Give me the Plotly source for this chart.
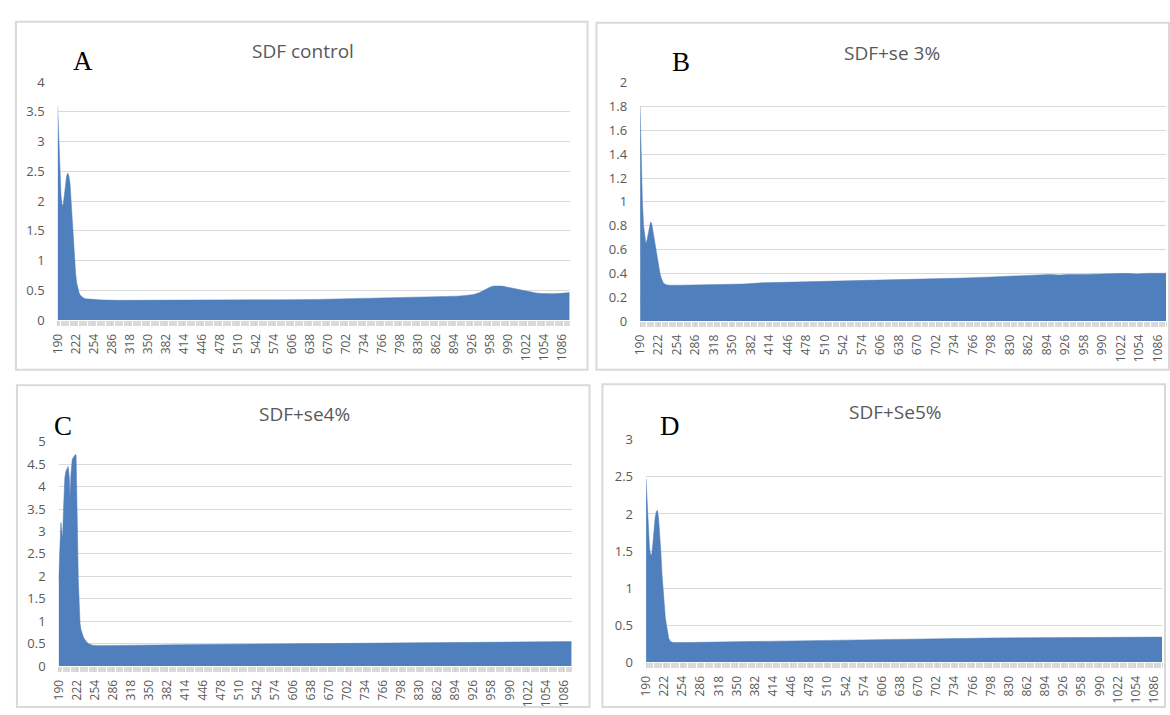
import plotly.graph_objects as go

# ---------------- data ----------------
a_wl = [190, 192, 194, 196, 198, 200, 202, 204, 206, 208, 210, 212, 214, 216, 218, 220,
        222, 224, 226, 228, 230, 232, 236, 240, 250, 270, 300, 350, 400, 450, 500, 550,
        600, 650, 700, 750, 800, 850, 880, 900, 915, 930, 940, 950, 958, 965, 972, 980,
        990, 1000, 1010, 1020, 1030, 1040, 1050, 1060, 1070, 1080, 1090, 1100]
a_abs = [3.6, 3.1, 2.5, 2.1, 1.92, 1.95, 2.1, 2.3, 2.42, 2.47, 2.42, 2.3, 2.0, 1.65, 1.3, 1.0,
         0.78, 0.62, 0.52, 0.46, 0.42, 0.40, 0.37, 0.355, 0.345, 0.335, 0.33, 0.33, 0.33, 0.335, 0.335, 0.34,
         0.34, 0.345, 0.355, 0.37, 0.375, 0.385, 0.39, 0.40, 0.41, 0.43, 0.46, 0.51, 0.55, 0.57, 0.575, 0.57,
         0.55, 0.53, 0.51, 0.49, 0.47, 0.455, 0.445, 0.44, 0.44, 0.445, 0.45, 0.46]

b_wl = [190, 192, 194, 196, 198, 200, 202, 204, 206, 208, 210, 212, 214, 216, 218, 220,
        222, 224, 226, 228, 230, 234, 240, 260, 300, 330, 350, 370, 400, 450, 500, 550,
        600, 650, 700, 750, 800, 850, 880, 900, 915, 930, 960, 1000, 1030, 1050, 1070, 1100]
b_abs = [1.8, 1.3, 1.0, 0.8, 0.7, 0.65, 0.68, 0.74, 0.8, 0.83, 0.82, 0.76, 0.68, 0.62, 0.56, 0.5,
         0.45, 0.41, 0.37, 0.34, 0.32, 0.305, 0.30, 0.30, 0.302, 0.305, 0.31, 0.31, 0.32, 0.325, 0.33, 0.34,
         0.345, 0.35, 0.355, 0.36, 0.37, 0.38, 0.39, 0.39, 0.385, 0.39, 0.39, 0.395, 0.40, 0.395, 0.40, 0.40]

c_wl = [190, 192, 194, 196, 197, 199, 201, 203, 205, 207, 209, 210, 212, 214, 216, 218,
        220, 221, 222, 223, 224, 225, 226, 227, 228, 230, 232, 234, 236, 240, 244, 250,
        260, 280, 320, 350, 400, 450, 500, 550, 600, 650, 700, 750, 800, 850, 900, 950,
        1000, 1050, 1100]
c_abs = [1.9, 2.8, 3.2, 2.95, 2.85, 3.6, 4.2, 4.35, 4.4, 4.45, 4.2, 3.75, 4.3, 4.6, 4.65, 4.7,
         4.72, 4.7, 4.2, 3.4, 2.6, 1.9, 1.4, 1.1, 0.95, 0.8, 0.7, 0.64, 0.6, 0.53, 0.49, 0.465,
         0.455, 0.46, 0.465, 0.47, 0.475, 0.48, 0.485, 0.49, 0.495, 0.50, 0.505, 0.51, 0.515, 0.52, 0.525, 0.53,
         0.535, 0.54, 0.545]

d_wl = [190, 192, 194, 196, 198, 200, 202, 204, 206, 208, 210, 212, 214, 216, 218, 220,
        222, 224, 226, 228, 230, 233, 238, 260, 300, 350, 400, 450, 500, 550, 600, 650,
        700, 750, 800, 850, 900, 950, 1000, 1050, 1100]
d_abs = [2.48, 2.1, 1.75, 1.55, 1.45, 1.45, 1.6, 1.8, 1.95, 2.03, 2.05, 1.95, 1.75, 1.5, 1.2, 0.95,
         0.75, 0.6, 0.5, 0.4, 0.32, 0.28, 0.265, 0.265, 0.27, 0.278, 0.285, 0.292, 0.298, 0.303, 0.31, 0.315,
         0.318, 0.322, 0.326, 0.328, 0.33, 0.33, 0.332, 0.335, 0.338]

x_tick_labels = [190, 222, 254, 286, 318, 350, 382, 414, 446, 478, 510, 542, 574, 606, 638, 670,
                 702, 734, 766, 798, 830, 862, 894, 926, 958, 990, 1022, 1054, 1086]

titles = ["SDF control", "SDF+se 3%", "SDF+se4%", "SDF+Se5%"]
letters = ["A", "B", "C", "D"]
y_max = [4, 2, 5, 3]
y_step = [0.5, 0.2, 0.5, 0.5]

# ---------------- layout geometry (pixels) ----------------
W, H = 1170, 715
FILL = "#4F7FBC"
GRID = "#D9D9D9"
TXT = "#595959"

def px(x):
    return x / W

def py(y):
    return 1 - y / H

# plot areas: (left, right, top, bottom)
areas = [(49, 565, 75, 319), (636, 1166, 75.7, 320), (50, 567, 444, 674), (642, 1162, 442, 670)]
borders = [(7, 583, 13, 370), (592, 1169, 14, 370), (8, 585, 386, 716), (598, 1165, 385, 716)]
title_pos = [(243, 43), (839, 45), (250, 415), (844, 413)]
letter_pos = [(74.5, 53), (677, 54), (54, 428), (666, 428)]

series = [(a_wl, a_abs), (b_wl, b_abs), (c_wl, c_abs), (d_wl, d_abs)]

fig = go.Figure()
layout = dict(
    width=W, height=H, margin=dict(l=0, r=0, t=0, b=0),
    paper_bgcolor="white", plot_bgcolor="white", showlegend=False,
    shapes=[], annotations=[],
)

for i, ((wl, ab), (l, r, t, b)) in enumerate(zip(series, areas)):
    n = "" if i == 0 else str(i + 1)
    fig.add_trace(go.Scatter(
        x=wl, y=ab, mode="lines", fill="tozeroy", fillcolor=FILL,
        line=dict(color=FILL, width=0.5), xaxis="x" + n, yaxis="y" + n,
        hoverinfo="skip",
    ))
    layout["xaxis" + n] = dict(
        domain=[px(l), px(r)], anchor="y" + n, range=[190, 1100],
        tickmode="array", tickvals=x_tick_labels, ticktext=[str(v) for v in x_tick_labels],
        tickangle=-90, ticks="outside", ticklen=5, tickcolor="#CFCFCF", tickwidth=1,
        minor=dict(dtick=2, ticks="outside", ticklen=5, tickcolor="#DADADA", tickwidth=1),
        tickfont=dict(family="Open Sans", size=12, color=TXT),
        showgrid=False, zeroline=False, showline=False, ticklabelstandoff=3,
        fixedrange=True,
    )
    layout["yaxis" + n] = dict(
        domain=[py(b), py(t)], anchor="x" + n, range=[0, y_max[i]],
        dtick=y_step[i], tick0=0, showgrid=True, gridcolor=GRID, gridwidth=1,
        zeroline=False, showline=False, ticks="",
        tickfont=dict(family="Open Sans", size=13, color=TXT),
        ticklabelstandoff=12, fixedrange=True,
    )
    bl, br, bt, bb = borders[i]
    layout["shapes"].append(dict(
        type="rect", xref="paper", yref="paper",
        x0=px(bl), x1=px(br), y0=py(bb), y1=py(bt),
        line=dict(color=GRID, width=2), fillcolor="rgba(0,0,0,0)", layer="above",
    ))
    tx, ty = title_pos[i]
    layout["annotations"].append(dict(
        text=titles[i], xref="paper", yref="paper", x=px(tx), y=py(ty),
        xanchor="left", yanchor="middle", showarrow=False,
        font=dict(family="Open Sans", size=19, color=TXT),
    ))
    lx, ly = letter_pos[i]
    layout["annotations"].append(dict(
        text=letters[i], xref="paper", yref="paper", x=px(lx), y=py(ly),
        xanchor="center", yanchor="middle", showarrow=False,
        font=dict(family="Liberation Serif", size=27, color="black"),
    ))

fig.update_layout(**layout)
fig.write_html("out.html")
